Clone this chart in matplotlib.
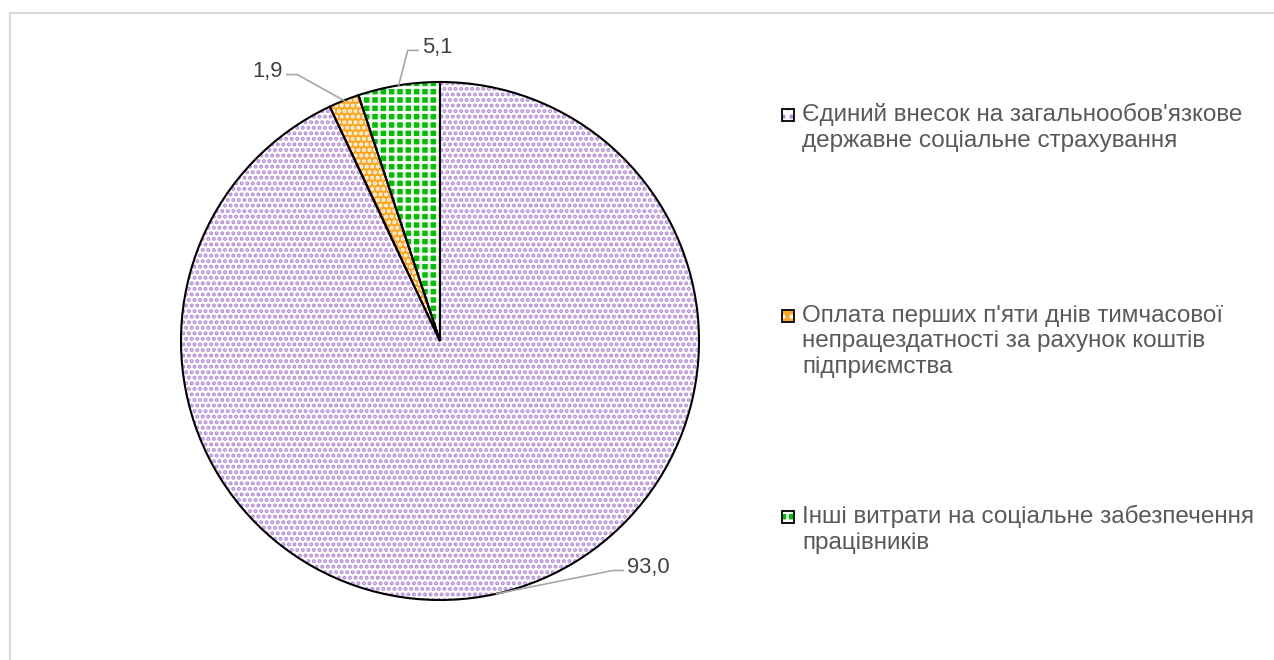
import numpy as np
import matplotlib.pyplot as plt
from matplotlib.patches import Rectangle
from matplotlib.lines import Line2D

plt.rcParams['font.family'] = ['Liberation Sans', 'DejaVu Sans']

# data
categories = [
    "Єдиний внесок на загальнообов'язкове\nдержавне соціальне страхування",
    "Оплата перших п'яти днів тимчасової\nнепрацездатності за рахунок коштів\nпідприємства",
    "Інші витрати на соціальне забезпечення\nпрацівників",
]
values = [93.0, 1.9, 5.1]
value_labels = ["93,0", "1,9", "5,1"]

# styles: face, hatch, hatch colour
faces = ["white", "#FFA520", "#00C000"]
hatches = ["...", "...", "++"]
hatch_cols = ["#B48ADB", "white", "white"]

W, H = 1274, 660
fig = plt.figure(figsize=(W / 100, H / 100), dpi=100)

# chart frame (light gray, left/top only visible)
fig.add_artist(Line2D([10 / W, 10 / W], [0, 1 - 13 / H], transform=fig.transFigure,
                      color="#D9D9D9", lw=1.5))
fig.add_artist(Line2D([10 / W, 1], [1 - 13 / H, 1 - 13 / H], transform=fig.transFigure,
                      color="#D9D9D9", lw=1.5))

cx, cy, r = 440, 341, 259
ax = fig.add_axes([(cx - r) / W, (H - cy - r) / H, 2 * r / W, 2 * r / H])

plt.rcParams['hatch.linewidth'] = 2.0
wedges, _ = ax.pie(values, startangle=90, counterclock=False, radius=1,
                   colors=faces, wedgeprops=dict(linewidth=0))
for w, h, hc in zip(wedges, hatches, hatch_cols):
    w.set_hatch(h)
    w.set_edgecolor(hc)
# outlines
ax.pie(values, startangle=90, counterclock=False, radius=1,
       wedgeprops=dict(fill=False, edgecolor="black", linewidth=1.5))
ax.set_xlim(-1, 1)
ax.set_ylim(-1, 1)
ax.set_aspect("auto")
ax.axis("off")

# data labels with leader lines
offsets = [(0.45, 0.09, "left"), (-0.18, 0.1, "right"), (0.035, 0.135, "left")]
for w, lab, (dx, dy, ha) in zip(wedges, value_labels, offsets):
    ang = np.deg2rad((w.theta1 + w.theta2) / 2)
    x0, y0 = np.cos(ang), np.sin(ang)
    x1, y1 = x0 + dx, y0 + dy
    x2 = x1 + (0.04 if ha == "left" else -0.04)
    ax.plot([x0, x1, x2], [y0, y1, y1], color="#A6A6A6", lw=1.2, clip_on=False)
    ax.text(x2 + (0.015 if ha == "left" else -0.015), y1 + 0.012, lab,
            ha=ha, va="center", fontsize=15.8, color="#404040")

# legend drawn manually
text_tops = [103, 305, 505]
mark_tops = [109, 310, 511]
for tt, mt, lab, fc, hh, hc in zip(text_tops, mark_tops, categories, faces, hatches, hatch_cols):
    rect = Rectangle((782 / W, 1 - (mt + 12) / H), 12 / W, 12 / H,
                     transform=fig.transFigure, facecolor=fc, hatch=hh[:2],
                     edgecolor=hc, lw=0)
    fig.add_artist(rect)
    fig.add_artist(Rectangle((782 / W, 1 - (mt + 12) / H), 12 / W, 12 / H,
                             transform=fig.transFigure, fill=False,
                             edgecolor="black", lw=1.3))
    fig.text(802 / W, 1 - tt / H, lab, ha="left", va="top",
             fontsize=17.5, color="#595959", linespacing=1.2)

fig.savefig("out.png", dpi=100)
